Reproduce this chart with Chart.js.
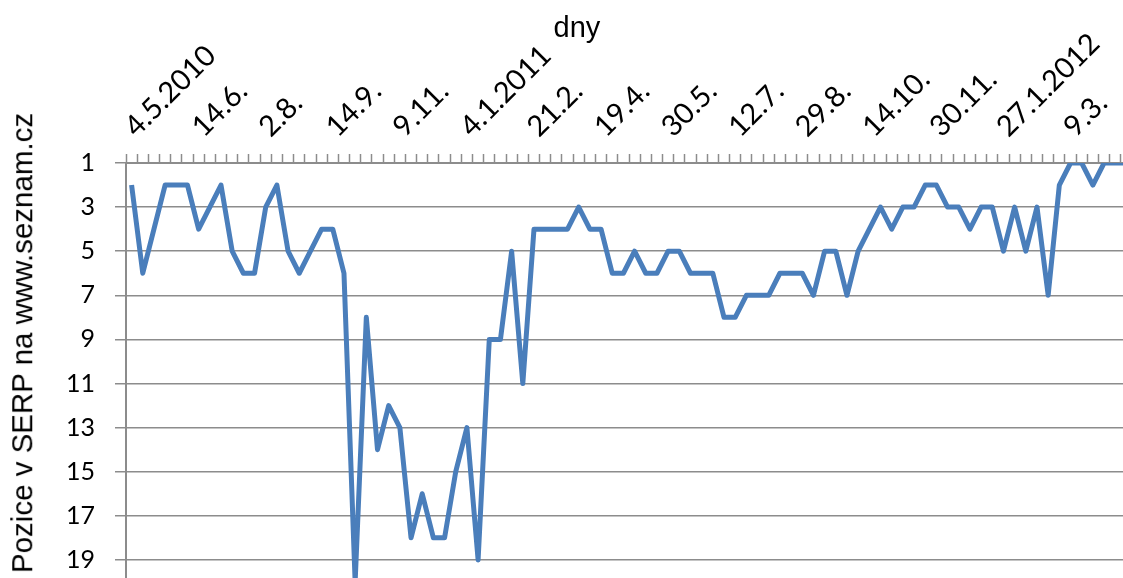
<!DOCTYPE html>
<html lang="cs">
  <head>
    <meta charset="UTF-8" />
    <title>Pozice v SERP</title>
    <script src="https://cdn.jsdelivr.net/npm/chart.js"></script>
    <style>
      body {
        margin: 0;
        overflow: hidden;
        background: #fff;
      }
      .wrap {
        position: relative;
        width: 1154px;
        height: 604px;
      }
      .x-title {
        position: absolute;
        left: 577px;
        top: 13px;
        transform: translateX(-50%);
        font: 29px/29px "Liberation Sans", Arial, sans-serif;
        color: #000;
        white-space: nowrap;
      }
      .y-title {
        position: absolute;
        left: 22px;
        top: 343px;
        transform: translate(-50%, -50%) rotate(-90deg);
        font: 29.5px/29.5px "Liberation Sans", Arial, sans-serif;
        color: #000;
        white-space: nowrap;
      }
    </style>
  </head>
  <body>
    <div class="wrap">
      <canvas id="chart-serp"></canvas>
      <div class="x-title">dny</div>
      <div class="y-title">Pozice v SERP na www.seznam.cz</div>
    </div>
    <script>
      // popisky osy x (kazdy 6. tyden)
      const tickLabels = [
        "4.5.2010", "14.6.", "2.8.", "14.9.", "9.11.", "4.1.2011", "21.2.",
        "19.4.", "30.5.", "12.7.", "29.8.", "14.10.", "30.11.", "27.1.2012", "9.3.",
      ];

      // pozice v SERP po tydnech
      const pozice = [
        2, 6, 4, 2, 2, 2, 4, 3, 2, 5,
        6, 6, 3, 2, 5, 6, 5, 4, 4, 6,
        20, 8, 14, 12, 13, 18, 16, 18, 18, 15,
        13, 19, 9, 9, 5, 11, 4, 4, 4, 4,
        3, 4, 4, 6, 6, 5, 6, 6, 5, 5,
        6, 6, 6, 8, 8, 7, 7, 7, 6, 6,
        6, 7, 5, 5, 7, 5, 4, 3, 4, 3,
        3, 2, 2, 3, 3, 4, 3, 3, 5, 3,
        5, 3, 7, 2, 1, 1, 2, 1, 1, 1,
      ];

      const yTicks = [1, 3, 5, 7, 9, 11, 13, 15, 17, 19, 21];

      const labels = pozice.map((_, i) =>
        i % 6 === 0 ? tickLabels[i / 6] || "" : ""
      );

      const gridColor = "#8c8c8c";

      new Chart(document.getElementById("chart-serp"), {
        type: "line",
        data: {
          labels: labels,
          datasets: [
            {
              data: pozice,
              borderColor: "#4a7ebb",
              borderWidth: 5,
              borderJoinStyle: "round",
              pointRadius: 0,
              tension: 0,
              fill: false,
            },
          ],
        },
        options: {
          responsive: true,
          maintainAspectRatio: false,
          animation: false,
          layout: { padding: { left: 0, top: 0, right: 22, bottom: 0 } },
          plugins: {
            legend: { display: false },
            tooltip: { enabled: false },
          },
          scales: {
            x: {
              position: "top",
              offset: true,
              grid: {
                offset: true,
                drawOnChartArea: false,
                drawTicks: true,
                tickLength: 9,
                tickColor: gridColor,
                tickWidth: 1.5,
              },
              border: { color: gridColor, width: 2 },
              ticks: {
                autoSkip: false,
                minRotation: 45,
                maxRotation: 45,
                padding: 10,
                labelOffset: 23,
                color: "#000",
                font: { family: "Lato, 'Open Sans', sans-serif", size: 29 },
              },
              afterFit: (scale) => {
                scale.height = 163;
                scale.paddingLeft = 0;
                scale.paddingRight = 0;
              },
            },
            y: {
              reverse: true,
              min: 1,
              max: 21,
              afterBuildTicks: (scale) => {
                scale.ticks = yTicks.map((v) => ({ value: v }));
              },
              grid: {
                color: gridColor,
                lineWidth: 1.5,
                tickLength: 11,
                tickColor: gridColor,
              },
              border: { color: gridColor, width: 2 },
              ticks: {
                padding: 20,
                color: "#000",
                font: { family: "Lato, 'Open Sans', sans-serif", size: 25 },
              },
              afterFit: (scale) => {
                scale.width = 126;
                scale.paddingTop = 0;
                scale.paddingBottom = 0;
              },
            },
          },
        },
      });
    </script>
  </body>
</html>
